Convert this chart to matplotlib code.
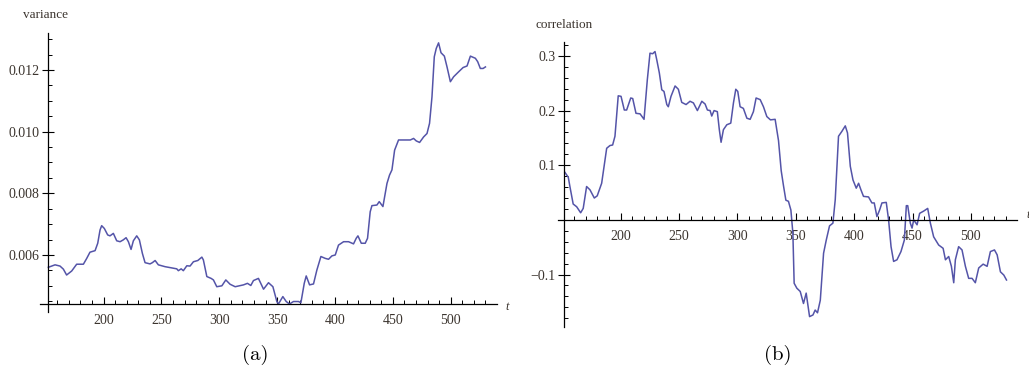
import numpy as np
import matplotlib
matplotlib.use("Agg")
import matplotlib.pyplot as plt
from matplotlib.ticker import FixedLocator, FixedFormatter

# --- data ---
var_t = [152.2, 158.0, 162.3, 165.2, 168.0, 172.4, 176.7, 182.5, 185.4, 188.2,
         192.6, 194.9, 196.9, 198.3, 200.6, 203.5, 205.5, 208.4, 211.3, 214.2,
         217.0, 219.4, 221.4, 223.7, 225.7, 228.6, 230.9, 233.5, 235.8, 240.1,
         242.1, 244.5, 247.3, 253.1, 258.9, 263.2, 264.6, 267.0, 268.9, 271.9,
         274.7, 277.6, 281.4, 284.9, 286.2, 289.2, 292.9, 294.9, 297.8, 302.2,
         305.6, 309.3, 313.7, 320.9, 324.3, 327.2, 329.5, 333.8, 338.2, 342.5,
         346.3, 349.7, 351.1, 354.9, 357.8, 360.6, 364.1, 368.4, 370.5, 373.4,
         375.1, 378.0, 381.4, 384.3, 387.8, 391.5, 394.4, 397.3, 400.2, 403.0,
         407.4, 411.7, 416.0, 418.3, 419.8, 422.7, 426.1, 428.1, 430.4, 431.9,
         436.2, 438.2, 441.4, 444.9, 447.1, 449.2, 451.5, 454.9, 460.7, 465.1,
         467.9, 470.2, 473.1, 476.6, 479.5, 481.7, 483.8, 485.8, 487.5, 489.5,
         491.6, 494.5, 496.8, 499.7, 502.5, 506.8, 510.7, 514.1, 517.0, 521.3,
         523.3, 525.6, 528.0, 530.0]
var_v = [0.00560, 0.00568, 0.00564, 0.00554, 0.00535, 0.00548, 0.00570, 0.00570, 0.00589, 0.00609,
         0.00614, 0.00638, 0.00681, 0.00695, 0.00686, 0.00665, 0.00662, 0.00670, 0.00646, 0.00643,
         0.00649, 0.00656, 0.00643, 0.00618, 0.00646, 0.00662, 0.00649, 0.00605, 0.00575, 0.00571,
         0.00575, 0.00582, 0.00568, 0.00562, 0.00558, 0.00555, 0.00549, 0.00555, 0.00549, 0.00565,
         0.00564, 0.00578, 0.00582, 0.00593, 0.00584, 0.00530, 0.00524, 0.00519, 0.00497, 0.00500,
         0.00519, 0.00505, 0.00497, 0.00503, 0.00508, 0.00501, 0.00517, 0.00524, 0.00489, 0.00510,
         0.00497, 0.00449, 0.00441, 0.00465, 0.00449, 0.00441, 0.00449, 0.00449, 0.00445, 0.00508,
         0.00532, 0.00503, 0.00506, 0.00551, 0.00595, 0.00589, 0.00586, 0.00597, 0.00600, 0.00632,
         0.00643, 0.00643, 0.00636, 0.00654, 0.00662, 0.00638, 0.00638, 0.00654, 0.00740, 0.00760,
         0.00762, 0.00773, 0.00757, 0.00832, 0.00859, 0.00876, 0.00940, 0.00973, 0.00973, 0.00973,
         0.00978, 0.00970, 0.00965, 0.00983, 0.00994, 0.01027, 0.01113, 0.01243, 0.01270, 0.01288,
         0.01256, 0.01245, 0.01210, 0.01162, 0.01178, 0.01194, 0.01208, 0.01213, 0.01245, 0.01238,
         0.01227, 0.01205, 0.01205, 0.01210]

cor_t = [152.2, 155.1, 156.5, 159.3, 162.3, 165.7, 167.9, 170.8, 173.7, 177.4,
         179.9, 183.7, 188.0, 190.8, 193.1, 195.1, 197.9, 200.3, 203.1, 205.1,
         208.6, 210.3, 213.1, 216.6, 220.0, 222.8, 225.1, 227.4, 229.4, 230.9,
         233.1, 235.2, 237.1, 239.5, 240.8, 243.1, 246.6, 249.4, 252.3, 256.0,
         259.4, 262.3, 265.7, 269.5, 272.3, 274.3, 276.6, 278.0, 280.0, 282.8,
         284.5, 286.0, 288.0, 290.9, 294.3, 296.6, 298.6, 300.3, 302.3, 305.1,
         308.1, 310.9, 313.7, 316.0, 319.5, 322.3, 325.2, 328.3, 332.3, 335.2,
         337.5, 339.5, 341.5, 343.7, 345.8, 347.5, 348.6, 350.9, 353.8, 356.6,
         358.9, 361.8, 364.7, 366.6, 368.6, 371.0, 373.8, 376.1, 378.9, 381.8,
         383.8, 386.6, 389.5, 392.4, 394.3, 396.7, 399.0, 401.8, 403.8, 405.8,
         408.0, 412.3, 415.2, 417.2, 419.5, 421.8, 423.8, 427.5, 429.5, 431.6,
         433.8, 436.7, 440.1, 443.0, 444.7, 445.9, 448.1, 449.6, 451.0, 453.9,
         456.1, 459.5, 463.0, 465.3, 468.1, 472.4, 476.2, 478.2, 481.0, 483.3,
         485.3, 486.7, 489.5, 492.4, 495.3, 498.1, 501.0, 503.8, 506.7, 510.5,
         513.9, 516.7, 520.2, 522.5, 525.3, 528.2, 530.5]
cor_v = [0.087, 0.078, 0.061, 0.029, 0.024, 0.013, 0.021, 0.061, 0.055, 0.040,
         0.044, 0.067, 0.131, 0.136, 0.137, 0.153, 0.227, 0.226, 0.201, 0.201,
         0.223, 0.222, 0.195, 0.194, 0.184, 0.256, 0.305, 0.304, 0.308, 0.293,
         0.269, 0.238, 0.235, 0.211, 0.207, 0.226, 0.245, 0.239, 0.215, 0.211,
         0.217, 0.214, 0.200, 0.217, 0.212, 0.201, 0.200, 0.190, 0.200, 0.198,
         0.165, 0.142, 0.165, 0.174, 0.177, 0.214, 0.239, 0.235, 0.207, 0.204,
         0.186, 0.184, 0.198, 0.223, 0.220, 0.207, 0.189, 0.183, 0.184, 0.145,
         0.090, 0.062, 0.036, 0.034, 0.018, -0.024, -0.116, -0.125, -0.131, -0.153,
         -0.134, -0.177, -0.174, -0.165, -0.170, -0.147, -0.061, -0.037, -0.011, -0.006,
         0.037, 0.153, 0.162, 0.172, 0.159, 0.098, 0.073, 0.058, 0.067, 0.055,
         0.043, 0.042, 0.031, 0.031, 0.006, 0.018, 0.031, 0.032, 0.000, -0.049,
         -0.076, -0.073, -0.058, -0.037, 0.026, 0.026, -0.006, -0.015, 0.000, -0.009,
         0.012, 0.016, 0.021, -0.006, -0.031, -0.046, -0.052, -0.073, -0.067, -0.085,
         -0.115, -0.073, -0.049, -0.055, -0.085, -0.107, -0.107, -0.115, -0.088, -0.081,
         -0.085, -0.058, -0.055, -0.064, -0.095, -0.101, -0.110]

t_ticks = [200, 250, 300, 350, 400, 450, 500]
t_minor = list(range(160, 540, 10))
var_ticks = [0.006, 0.008, 0.010, 0.012]
var_labels = ["0.006", "0.008", "0.010", "0.012"]
var_minor = [0.0045, 0.005, 0.0055, 0.0065, 0.007, 0.0075, 0.0085, 0.009,
             0.0095, 0.0105, 0.011, 0.0115, 0.0125, 0.013]
cor_ticks = [-0.1, 0.1, 0.2, 0.3]
cor_labels = ["\u22120.1", "0.1", "0.2", "0.3"]
cor_minor = [-0.18, -0.16, -0.14, -0.12, -0.08, -0.06, -0.04, -0.02, 0.0,
             0.02, 0.04, 0.06, 0.08, 0.12, 0.14, 0.16, 0.18, 0.22, 0.24,
             0.26, 0.28, 0.32]

LINE = "#5454a8"
TXT = "#3b342e"
W, H = 1029, 374

fig = plt.figure(figsize=(W / 100, H / 100), dpi=100)


def px_box(x0, y0, x1, y1):
    return [x0 / W, 1 - y1 / H, (x1 - x0) / W, (y1 - y0) / H]


def style(ax, xmin, ycross):
    for s in ["top", "right"]:
        ax.spines[s].set_visible(False)
    ax.spines["left"].set_position(("data", xmin))
    ax.spines["bottom"].set_position(("data", ycross))
    ax.spines["left"].set_linewidth(0.9)
    ax.spines["bottom"].set_linewidth(0.9)
    ax.xaxis.set_major_locator(FixedLocator(t_ticks))
    ax.xaxis.set_minor_locator(FixedLocator(t_minor))
    ax.tick_params(axis="x", which="major", direction="in", length=5, width=0.8,
                   pad=7, labelsize=10, labelcolor=TXT)
    ax.tick_params(axis="x", which="minor", direction="in", length=3, width=0.7)
    ax.tick_params(axis="y", which="major", direction="inout", length=8, width=0.8,
                   pad=2, labelsize=10, labelcolor=TXT)
    ax.tick_params(axis="y", which="minor", direction="in", length=3, width=0.7)


# (a) variance
ax1 = fig.add_axes(px_box(40, 33, 497, 312))
ax1.plot(var_t, var_v, color=LINE, lw=1.1)
ax1.set_xlim(145.0, 540.0)
ax1.set_ylim(0.00415, 0.0132)
style(ax1, 152.0, 0.00441)
ax1.yaxis.set_major_locator(FixedLocator(var_ticks))
ax1.yaxis.set_major_formatter(FixedFormatter(var_labels))
ax1.yaxis.set_minor_locator(FixedLocator(var_minor))
for lab in ax1.get_xticklabels() + ax1.get_yticklabels():
    lab.set_family("Liberation Serif")

# (b) correlation
ax2 = fig.add_axes(px_box(558, 41.7, 1017, 327))
ax2.plot(cor_t, cor_v, color=LINE, lw=1.1)
ax2.set_xlim(146.3, 539.5)
ax2.set_ylim(-0.196, 0.326)
style(ax2, 151.4, 0.0)
ax2.yaxis.set_major_locator(FixedLocator(cor_ticks))
ax2.yaxis.set_major_formatter(FixedFormatter(cor_labels))
ax2.yaxis.set_minor_locator(FixedLocator(cor_minor))
for lab in ax2.get_xticklabels() + ax2.get_yticklabels():
    lab.set_family("Liberation Serif")

# axis names and captions
fig.text(23 / W, 1 - 15 / H, "variance", fontsize=9.5, family="Liberation Serif",
         color=TXT, va="center", ha="left")
fig.text(535 / W, 1 - 25 / H, "correlation", fontsize=9.5, family="Liberation Serif",
         color=TXT, va="center", ha="left")
fig.text(507 / W, 1 - 307 / H, "t", fontsize=9, family="Liberation Serif",
         style="italic", color=TXT, va="center", ha="center")
fig.text(1026 / W, 1 - 215 / H, "t", fontsize=9, family="Liberation Serif",
         style="italic", color=TXT, va="center", ha="left")
fig.text(255 / W, 1 - 355 / H, "(a)", fontsize=15, family="cmr10",
         color="black", va="center", ha="center")
fig.text(778 / W, 1 - 355 / H, "(b)", fontsize=15, family="cmr10",
         color="black", va="center", ha="center")

fig.savefig("out.png", dpi=100)
